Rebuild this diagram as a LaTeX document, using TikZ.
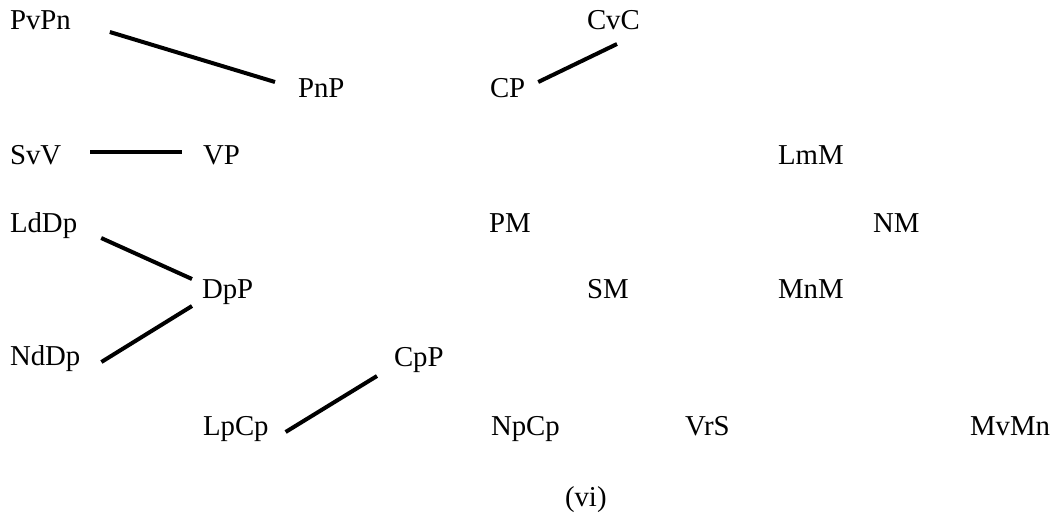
\documentclass[tikz,border=0pt]{standalone}
\usepackage{fontspec}
\setmainfont{Liberation Serif}

\begin{document}
\begin{tikzpicture}[x=0.75pt, y=-0.75pt,
  lbl/.style={anchor=base west, inner sep=0pt, outer sep=0pt, font=\fontsize{21.6}{26}\selectfont},
  link/.style={line width=3pt}]

\useasboundingbox (0,0) rectangle (1059,519);

% TOP ROWS
\node[lbl] (pvpn) at (10,29) {PvPn};
\node[lbl] (cvc) at (587,29) {CvC};
\node[lbl] (pnp) at (298,97) {PnP};
\node[lbl] (cp) at (490,97) {CP};

% MIDDLE ROWS
\node[lbl] (svv) at (10,164) {SvV};
\node[lbl] (vp) at (203,164) {VP};
\node[lbl] (lmm) at (778,164) {LmM};
\node[lbl] (lddp) at (10,232) {LdDp};
\node[lbl] (pm) at (489,232) {PM};
\node[lbl] (nm) at (873,232) {NM};
\node[lbl] (dpp) at (202,298) {DpP};
\node[lbl] (sm) at (587,298) {SM};
\node[lbl] (mnm) at (778,298) {MnM};

% BOTTOM ROWS
\node[lbl] (nddp) at (10,365) {NdDp};
\node[lbl] (cpp) at (394,366) {CpP};
\node[lbl] (lpcp) at (203,435) {LpCp};
\node[lbl] (npcp) at (491,435) {NpCp};
\node[lbl] (vrs) at (685,435) {VrS};
\node[lbl] (mvmn) at (970,435) {MvMn};

% CAPTION
\node[lbl] (vi) at (565,506) {(vi)};

% CONNECTORS
\draw[link] ([shift={(39,3)}]pvpn.base east) -- ([shift={(-23,-15)}]pnp.base west);
\draw[link] ([shift={(13,-15)}]cp.base east) -- ([shift={(30,15)}]cvc.base west);
\draw[link] ([shift={(29,-12)}]svv.base east) -- ([shift={(-21,-12)}]vp.base west);
\draw[link] ([shift={(24,6)}]lddp.base east) -- ([shift={(-10,-19)}]dpp.base west);
\draw[link] ([shift={(21,-3)}]nddp.base east) -- ([shift={(-10,8)}]dpp.base west);
\draw[link] ([shift={(17,-3)}]lpcp.base east) -- ([shift={(-17,10)}]cpp.base west);

\end{tikzpicture}
\end{document}
